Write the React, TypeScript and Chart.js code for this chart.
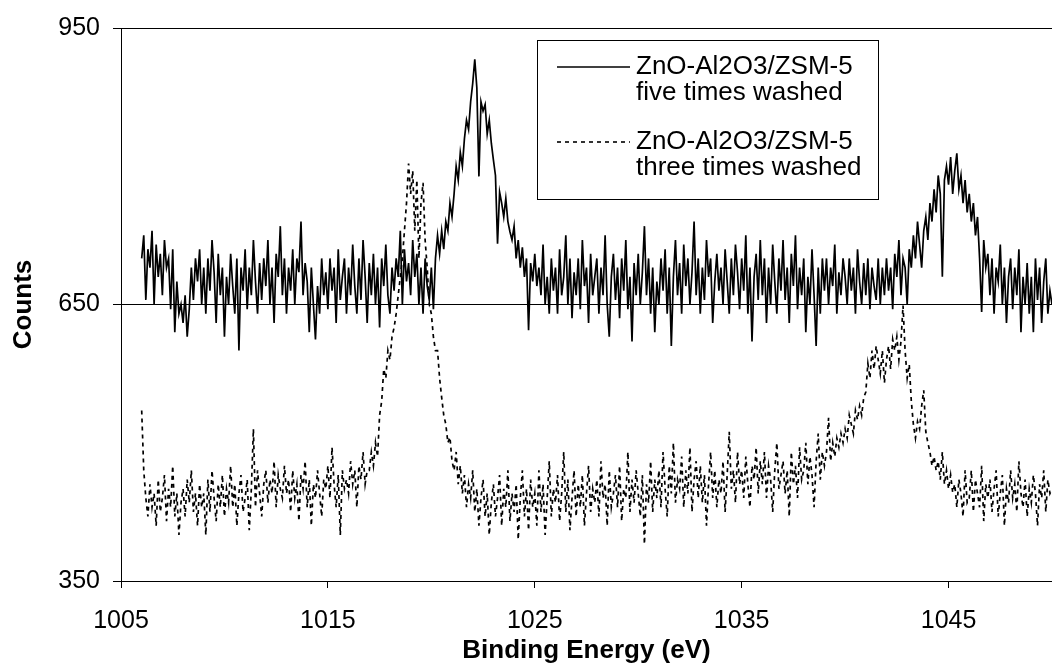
import React, { useEffect, useRef } from "react";
import { Chart, registerables } from "chart.js";

Chart.register(...registerables);

// Binding energy grid (eV): first reading and spacing between readings
const ENERGY_START = 1006;
const ENERGY_STEP = 0.1;

// Counts, ZnO-Al2O3/ZSM-5 five times washed (solid), 1006.0 ... 1050.0 eV
const FIVE_TIMES_WASHED = [
  700, 725, 655, 710, 690, 730, 650, 715, 680, 705,
  660, 720, 690, 700, 645, 710, 620, 675, 640, 650,
  630, 660, 615, 645, 690, 655, 700, 675, 710, 650,
  690, 640, 700, 665, 720, 685, 630, 705, 660, 690,
  615, 680, 650, 705, 670, 640, 700, 600, 690, 665,
  710, 645, 690, 660, 720, 675, 640, 695, 655, 700,
  670, 720, 650, 690, 630, 705, 680, 735, 660, 700,
  640, 690, 665, 710, 650, 700, 685, 740, 660, 695,
  675, 620, 690, 650, 612, 670, 640, 700, 660, 685,
  645, 700, 665, 690, 630, 710, 655, 680, 700, 640,
  690, 660, 715, 670, 640, 700, 655, 720, 680, 630,
  695, 660, 705, 650, 690, 625, 700, 670, 715, 660,
  640, 690, 665, 700, 680, 730, 650, 710, 675, 695,
  660, 720, 680, 705, 650, 690, 640, 700, 670, 655,
  690, 645, 700, 725, 705, 730, 710, 740, 730, 760,
  745, 770, 800, 785, 815, 800, 830, 850, 840, 870,
  890, 916, 885, 789, 870, 860, 867, 835, 850, 825,
  807, 790, 716, 772, 760, 745, 765, 740, 729, 720,
  735, 700, 720, 690, 712, 680, 700, 622, 695, 675,
  705, 670, 690, 660, 715, 650, 680, 640, 700, 665,
  690, 640, 710, 660, 680, 725, 650, 700, 635, 685,
  660, 700, 645, 720, 670, 690, 630, 705, 660, 680,
  700, 640, 690, 660, 725, 650, 615, 680, 705, 655,
  690, 635, 700, 665, 720, 645, 680, 610, 695, 660,
  705, 650, 685, 735, 660, 700, 640, 690, 620, 675,
  650, 700, 665, 710, 640, 690, 605, 680, 720, 660,
  695, 640, 715, 670, 700, 650, 685, 740, 660, 700,
  640, 690, 655, 720, 680, 700, 630, 675, 705, 665,
  690, 650, 710, 675, 640, 700, 660, 715, 685, 645,
  700, 665, 725, 640, 690, 610, 680, 705, 655, 720,
  660, 700, 630, 690, 650, 715, 675, 640, 700, 665,
  720, 655, 690, 630, 705, 670, 725, 645, 690, 660,
  700, 620, 680, 650, 710, 660, 605, 690, 640, 700,
  665, 700, 650, 690, 670, 715, 640, 685, 660, 700,
  680, 650, 700, 665, 690, 640, 710, 675, 650, 695,
  660, 700, 645, 690, 670, 655, 700, 650, 690, 660,
  700, 665, 690, 645, 705, 680, 720, 660, 700, 690,
  650, 710, 690, 725, 700, 740, 715, 690, 730, 745,
  720, 760, 740, 775, 750, 790, 770, 680, 785, 800,
  780, 810, 770, 795, 814, 775, 790, 760, 785, 750,
  770, 740, 760, 725, 745, 700, 642, 720, 690, 705,
  660, 700, 640, 690, 675, 715, 650, 690, 630, 680,
  700, 645, 690, 660, 710, 620, 680, 650, 695, 640,
  680, 620, 700, 655, 690, 630, 675, 700, 640, 665,
  650,
];

// Counts, ZnO-Al2O3/ZSM-5 three times washed (dotted), 1006.0 ... 1050.0 eV
const THREE_TIMES_WASHED = [
  535, 470, 440, 420, 455, 430, 445, 410, 460, 425,
  440, 465, 415, 450, 430, 475, 420, 445, 400, 435,
  450, 420, 460, 435, 470, 425, 445, 410, 455, 430,
  445, 400, 460, 425, 470, 440, 415, 455, 430, 465,
  420, 450, 435, 475, 430, 455, 410, 445, 465, 425,
  440, 460, 405, 450, 515, 430, 470, 445, 420, 455,
  470, 435, 460, 445, 480, 430, 465, 450, 440, 475,
  445, 460, 425, 470, 440, 455, 415, 465, 450, 480,
  430, 460, 410, 455, 440, 470, 445, 420, 460, 450,
  475, 440, 495, 455, 430, 465, 400, 470, 450, 460,
  445, 480, 455, 470, 430, 475, 460, 490, 455, 470,
  470, 490, 475, 500, 485, 530, 545, 580, 570, 600,
  590, 615, 625, 640, 660, 680, 700, 730, 760, 803,
  770, 795, 730, 785, 700, 760, 782, 720, 690, 650,
  640, 615, 600, 600, 570, 549, 530, 520, 500, 506,
  480, 470, 490, 455, 475, 445, 465, 430, 455, 440,
  470, 425, 450, 410, 440, 460, 420, 445, 400, 435,
  455, 420, 440, 465, 410, 450, 430, 470, 415, 445,
  425, 455, 395, 440, 470, 420, 450, 405, 460, 430,
  445, 410, 470, 425, 455, 400, 440, 480, 420, 450,
  435, 465, 415, 445, 490, 425, 460, 405, 440, 470,
  420, 455, 430, 465, 410, 445, 475, 425, 450, 435,
  460, 420, 480, 440, 455, 410, 470, 430, 445, 465,
  430, 475, 415, 450, 440, 490, 425, 460, 435, 470,
  445, 420, 465, 390, 455, 435, 480, 425, 460, 440,
  470, 430, 490, 450, 420, 475, 445, 500, 435, 460,
  450, 485, 430, 470, 445, 495, 425, 460, 480, 440,
  475, 435, 465, 410, 455, 490, 440, 470, 430, 460,
  445, 480, 425, 465, 512, 450, 470, 435, 490, 455,
  470, 440, 485, 455, 430, 475, 460, 495, 445, 480,
  455, 490, 440, 475, 460, 425, 470, 500, 450, 465,
  480, 445, 470, 420, 490, 455, 475, 440, 495, 460,
  470, 500, 455, 485, 465, 430, 480, 510, 460, 490,
  475, 490, 527, 480, 500, 485, 505, 495, 510, 500,
  515, 505, 530, 520, 510, 535, 525, 540, 530, 549,
  555, 586, 570, 600, 580, 605, 590, 575, 600, 565,
  590, 605, 580, 612, 600, 615, 590, 610, 649, 600,
  570, 585, 545, 520, 505, 523, 515, 540, 557, 512,
  500, 490, 475, 485, 470, 480, 460, 490, 455, 470,
  450, 465, 446, 455, 430, 460, 445, 420, 470, 435,
  440, 470, 425, 460, 445, 430, 475, 415, 455, 440,
  460, 425, 450, 470, 420, 445, 465, 410, 450, 435,
  470, 440, 455, 425, 480, 445, 430, 460, 420, 450,
  435, 465, 445, 410, 455, 440, 470, 425, 460, 445,
  450,
];

const ENERGIES = FIVE_TIMES_WASHED.map(
  (_, i) => Math.round((ENERGY_START + i * ENERGY_STEP) * 10) / 10
);

const X_TICKS = [1005, 1015, 1025, 1035, 1045];
const Y_TICKS = [350, 650, 950];

const SERIES_NAMES = [
  ["ZnO-Al2O3/ZSM-5", "five times washed"],
  ["ZnO-Al2O3/ZSM-5", "three times washed"],
];

const FONT = "'Liberation Sans', Arial, sans-serif";

const boxLegend = {
  id: "boxLegend",
  afterDraw(chart: any) {
    const ctx = chart.ctx as CanvasRenderingContext2D;
    const L = 537, T = 40, R = 878, B = 199;
    ctx.save();
    ctx.fillStyle = "#ffffff";
    ctx.fillRect(L, T, R - L, B - T);
    ctx.strokeStyle = "#000000";
    ctx.lineWidth = 1;
    ctx.strokeRect(L + 0.5, T + 0.5, R - L, B - T);
    ctx.font = `26px ${FONT}`;
    ctx.fillStyle = "#000";
    ctx.textBaseline = "middle";
    const rows = [
      { y: 67, dash: [] as number[] },
      { y: 142, dash: [4, 4] },
    ];
    rows.forEach((r, i) => {
      ctx.beginPath();
      ctx.setLineDash(r.dash);
      ctx.lineWidth = 1.6;
      ctx.strokeStyle = "#000";
      ctx.moveTo(557, r.y);
      ctx.lineTo(630, r.y);
      ctx.stroke();
      ctx.setLineDash([]);
      ctx.fillText(SERIES_NAMES[i][0], 636, r.y);
      ctx.fillText(SERIES_NAMES[i][1], 636, r.y + 26);
    });
    ctx.restore();
  },
};

export default function App() {
  const ref = useRef<HTMLCanvasElement | null>(null);
  useEffect(() => {
    document.body.style.margin = "0";
    const canvas = ref.current!;
    const chart = new Chart(canvas, {
      type: "line",
      data: {
        datasets: [
          {
            label: SERIES_NAMES[0].join(" "),
            data: ENERGIES.map((x, i) => ({ x, y: FIVE_TIMES_WASHED[i] })),
            borderColor: "#000",
            borderWidth: 1.7,
            pointRadius: 0,
            tension: 0,
          },
          {
            label: SERIES_NAMES[1].join(" "),
            data: ENERGIES.map((x, i) => ({ x, y: THREE_TIMES_WASHED[i] })),
            borderColor: "#000",
            borderWidth: 1.7,
            borderDash: [4, 4],
            pointRadius: 0,
            tension: 0,
          },
        ],
      },
      options: {
        animation: false,
        responsive: false,
        devicePixelRatio: 1,
        layout: { padding: { top: 24, right: 0, left: 0, bottom: 0 } },
        plugins: { legend: { display: false }, tooltip: { enabled: false } },
        scales: {
          x: {
            type: "linear",
            min: 1005,
            max: 1050,
            afterBuildTicks: (s: any) => {
              s.ticks = X_TICKS.map((v) => ({ value: v }));
            },
            afterFit: (s: any) => {
              s.height = 90;
            },
            grid: { drawOnChartArea: false, color: "#000", tickLength: 7 },
            border: { color: "#000", width: 1 },
            ticks: {
              color: "#000",
              font: { family: FONT, size: 25 },
              padding: 18,
              maxRotation: 0,
              callback: (v: any) => String(v),
            },
            title: {
              display: true,
              text: "Binding Energy (eV)",
              color: "#000",
              font: { family: FONT, size: 26, weight: "bold" },
              padding: { top: 5, bottom: 5 },
            },
          },
          y: {
            type: "linear",
            min: 350,
            max: 950,
            afterBuildTicks: (s: any) => {
              s.ticks = Y_TICKS.map((v) => ({ value: v }));
            },
            afterFit: (s: any) => {
              s.width = 121;
            },
            grid: { color: "#000", tickLength: 8, lineWidth: 1 },
            border: { color: "#000", width: 1 },
            ticks: {
              color: "#000",
              font: { family: FONT, size: 25 },
              padding: 13,
              callback: (v: any) => String(v),
            },
            title: {
              display: true,
              text: "Counts",
              color: "#000",
              font: { family: FONT, size: 26, weight: "bold" },
              padding: { top: 8, bottom: 8 },
            },
          },
        },
      },
      plugins: [boxLegend],
    });
    return () => chart.destroy();
  }, []);
  return (
    <div style={{ width: 1052, height: 671 }}>
      <canvas ref={ref} width={1052} height={671} style={{ display: "block" }} />
    </div>
  );
}
